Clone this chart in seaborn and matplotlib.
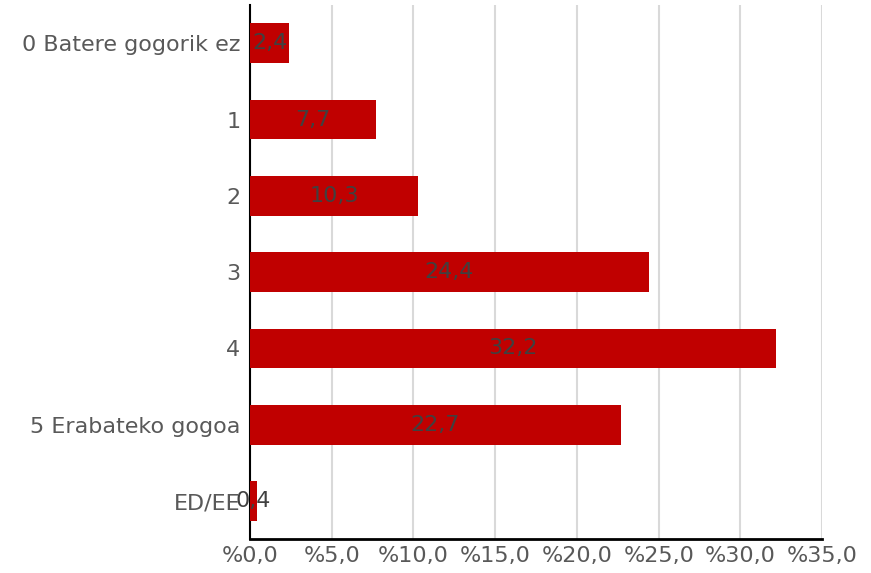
import matplotlib
matplotlib.use('Agg')
import matplotlib.pyplot as plt
import seaborn as sns
import pandas as pd
from matplotlib.ticker import FuncFormatter

# Datuak
categories = ['0 Batere gogorik ez', '1', '2', '3', '4', '5 Erabateko gogoa', 'ED/EE']
values = [2.4, 7.7, 10.3, 24.4, 32.2, 22.7, 0.4]
xticks = [0, 5, 10, 15, 20, 25, 30, 35]

df = pd.DataFrame({'kategoria': categories, 'balioa': values})

sns.set_style('white')
plt.rcParams['font.family'] = ['DejaVu Sans']

fig, ax = plt.subplots(figsize=(8.71, 5.73), dpi=100)
sns.barplot(data=df, x='balioa', y='kategoria', color='#c00000', saturation=1,
            width=0.52, orient='h', ax=ax, zorder=3, linewidth=0)

# Balioen etiketak barraren erdian
for p, v in zip(ax.patches, values):
    ax.text(p.get_x() + p.get_width() / 2, p.get_y() + p.get_height() / 2,
            f'{v:.1f}'.replace('.', ','), ha='center', va='center',
            fontsize=16, color='#404040', zorder=4)

ax.set_xlim(0, 35)
ax.set_ylim(6.5, -0.5)
ax.set_xticks(xticks)
ax.xaxis.set_major_formatter(FuncFormatter(lambda x, pos: '%' + f'{x:.1f}'.replace('.', ',')))
ax.grid(axis='x', color='#d9d9d9', linewidth=1.5, zorder=0)
ax.set_axisbelow(True)
ax.set_xlabel('')
ax.set_ylabel('')
ax.tick_params(axis='y', length=0, labelsize=16, labelcolor='#595959', pad=7)
ax.tick_params(axis='x', length=0, labelsize=16, labelcolor='#595959', pad=5)

for s in ['top', 'right']:
    ax.spines[s].set_visible(False)
ax.spines['left'].set_color('black')
ax.spines['left'].set_linewidth(1.5)
ax.spines['bottom'].set_color('black')
ax.spines['bottom'].set_linewidth(2)

plt.subplots_adjust(left=0.287, right=0.944, top=0.991, bottom=0.059)
plt.savefig('out.png', dpi=100)
